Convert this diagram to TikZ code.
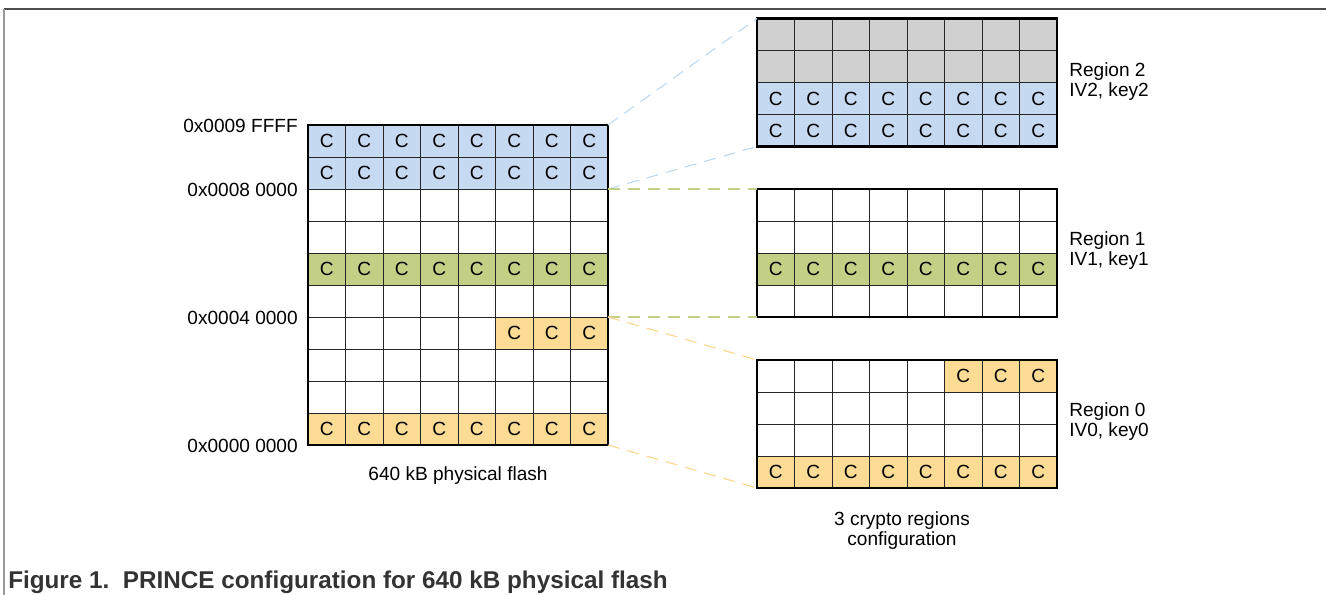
\documentclass[tikz,border=0pt]{standalone}
\usepackage{fontspec}
\setmainfont{Liberation Sans}
\definecolor{cblue}{HTML}{C5D9F1}
\definecolor{cgreen}{HTML}{C4CF86}
\definecolor{corange}{HTML}{FCDC94}
\definecolor{cgray}{HTML}{D0D0D0}
\definecolor{lblue}{HTML}{BDD7EE}
\definecolor{lgreen}{HTML}{C4CF86}
\definecolor{lorange}{HTML}{FCD68A}
\definecolor{capgray}{HTML}{333333}
\newcommand\mycrow[5]{%
  \foreach \c in {#4,...,#5} \node[ctext] (#1-\c) at ({#2+(\c+0.5)*37.5},{#3+16}) {C};}
\newcommand\mygrid[4]{% x0 y0 rows name
  \foreach \i in {1,...,7} \draw[inner] ({#1+\i*37.5},#2) -- ({#1+\i*37.5},{#2+#3*32});
  \foreach \j in {1,...,\numexpr#3-1\relax} \draw[inner] (#1,{#2+\j*32}) -- ({#1+300},{#2+\j*32});
  \node[gridframe, minimum height={#3*24pt}, anchor=north west] (#4) at (#1,#2) {};}
\begin{document}
\begin{tikzpicture}[x=0.75pt,y=-0.75pt,
  inner/.style={draw=black!85, line width=0.6pt},
  gridframe/.style={draw=black, line width=1.6pt, minimum width=225pt, inner sep=0pt, outer sep=0pt},
  ctext/.style={font=\fontsize{14.3}{16}\selectfont, inner sep=0pt},
  lab/.style={font=\fontsize{14.3}{15}\selectfont, inner sep=0pt, align=left},
  zoomline/.style={dashed, dash pattern=on 9pt off 6pt, line width=0.8pt}]
\useasboundingbox (0,0) rectangle (1326,595);
% frame
\draw[color=black!70, line width=0.8pt] (4,9) -- (1326,9);
\draw[color=black!40, line width=0.8pt] (4,9) -- (4,595);

% ---------- left physical flash ----------
\fill[cblue] (308,125) rectangle (608,189);
\fill[cgreen] (308,253) rectangle (608,285);
\fill[corange] (495.5,317) rectangle (608,349);
\fill[corange] (308,413) rectangle (608,445);
\mygrid{308}{125}{10}{L}
\mycrow{La}{308}{125}{0}{7}
\mycrow{Lb}{308}{157}{0}{7}
\mycrow{Lc}{308}{253}{0}{7}
\mycrow{Ld}{308}{317}{5}{7}
\mycrow{Le}{308}{413}{0}{7}
\coordinate (L8) at (608,189);
\coordinate (L4) at (608,317);

\node[lab, anchor=east] (a9) at (298,126) {0x0009 FFFF};
\node[lab, anchor=east] (a8) at (298,190) {0x0008 0000};
\node[lab, anchor=east] (a4) at (298,318) {0x0004 0000};
\node[lab, anchor=east] (a0) at (298,446) {0x0000 0000};
\node[lab] (ltitle) at (458,476) {640 kB physical flash};

% ---------- region 2 ----------
\fill[cgray] (757,18.5) rectangle (1057,82.5);
\fill[cblue] (757,82.5) rectangle (1057,146.5);
\mygrid{757}{18.5}{4}{R2}
\mycrow{Ra}{757}{82.5}{0}{7}
\mycrow{Rb}{757}{114.5}{0}{7}
\node[lab, anchor=west] (r2) at (1069,81.5) {Region 2\\IV2, key2};

% ---------- region 1 ----------
\fill[cgreen] (757,253) rectangle (1057,285);
\mygrid{757}{189}{4}{R1}
\mycrow{Rc}{757}{253}{0}{7}
\node[lab, anchor=west] (r1) at (1069,251) {Region 1\\IV1, key1};

% ---------- region 0 ----------
\fill[corange] (944.5,360) rectangle (1057,392);
\fill[corange] (757,456) rectangle (1057,488);
\mygrid{757}{360}{4}{R0}
\mycrow{Rd}{757}{360}{5}{7}
\mycrow{Re}{757}{456}{0}{7}
\node[lab, anchor=west] (r0) at (1069,422) {Region 0\\IV0, key0};

\node[lab, align=center] (rtitle) at (902,531) {3 crypto regions\\configuration};

% ---------- zoom connectors ----------
\draw[zoomline, lblue] (L.north east) -- (R2.north west);
\draw[zoomline, lblue] (L8) -- (R2.south west);
\draw[zoomline, lgreen] (L8) -- (R1.north west);
\draw[zoomline, lgreen] (L4) -- (R1.south west);
\draw[zoomline, lorange] (L4) -- (R0.north west);
\draw[zoomline, lorange] (L.south east) -- (R0.south west);

% caption
\node[anchor=west, inner sep=0pt, text=capgray, font=\fontsize{18.2}{20}\selectfont\bfseries] (cap) at (8,582) {Figure 1.\ \ PRINCE configuration for 640 kB physical flash};
\end{tikzpicture}
\end{document}
